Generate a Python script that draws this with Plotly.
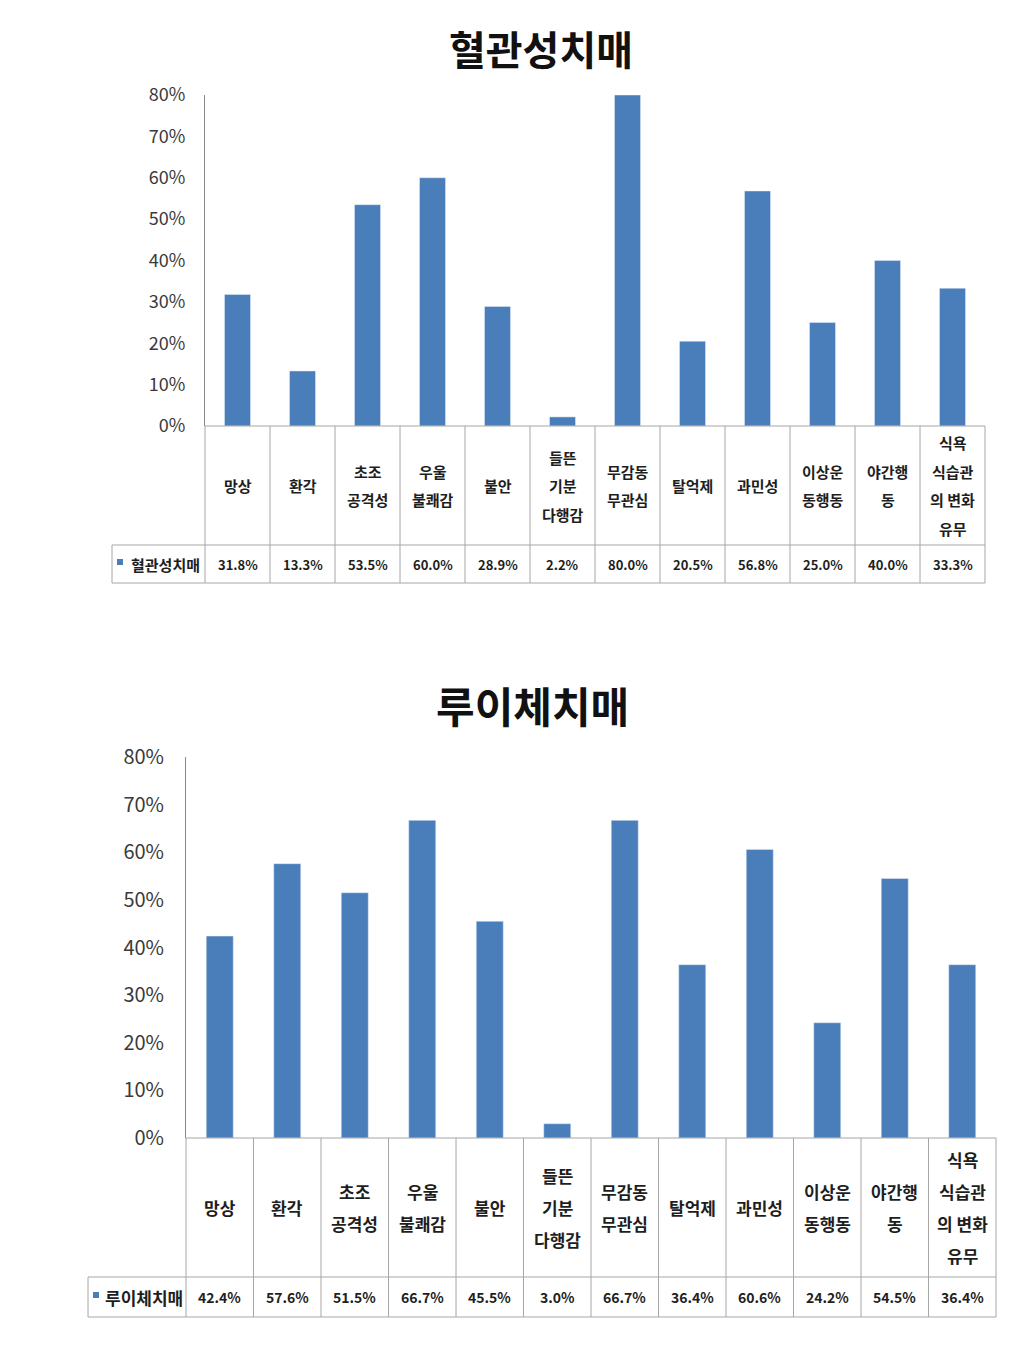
import plotly.graph_objects as go

W, H = 1031, 1353
PAGE_MARGIN = 8  # browser body margin around the plot div
FIG_W, FIG_H = W - 2 * PAGE_MARGIN, H - 2 * PAGE_MARGIN

# category labels, one entry per column, lines split by "\n"
CATEGORIES = [
    "망상", "환각", "초조\n공격성", "우울\n불쾌감", "불안", "들뜬\n기분\n다행감",
    "무감동\n무관심", "탈억제", "과민성", "이상운\n동행동", "야간행\n동", "식욕\n식습관\n의 변화\n유무",
]
VASCULAR = [31.8, 13.3, 53.5, 60.0, 28.9, 2.2, 80.0, 20.5, 56.8, 25.0, 40.0, 33.3]
LEWY = [42.4, 57.6, 51.5, 66.7, 45.5, 3.0, 66.7, 36.4, 60.6, 24.2, 54.5, 36.4]
SERIES_NAMES = ["혈관성치매", "루이체치매"]
Y_TICKS = [0, 10, 20, 30, 40, 50, 60, 70, 80]
Y_TICK_TEXT = [f"{v}%" for v in Y_TICKS]

BAR_COLOR = "#4a7ebb"
GRID_COLOR = "#a6a6a6"
AXIS_COLOR = "#8a8a8a"
TEXT_COLOR = "#1e1e1e"
FONT = "Noto Sans CJK KR"

# pixel layout of each panel (page coordinates)
PANELS = [
    dict(values=VASCULAR, name=SERIES_NAMES[0], ax="", left=205, right=985, top=95, zero=426,
         cat_bottom=545, val_bottom=583, leg_left=112, title_x=541, title_y=48, title_size=40,
         tick_size=18, tick_gap=15, cat_size=15, line_gap=28.5, val_size=13, leg_size=15),
    dict(values=LEWY, name=SERIES_NAMES[1], ax="2", left=186, right=996, top=757, zero=1138,
         cat_bottom=1277, val_bottom=1317, leg_left=88, title_x=532, title_y=705, title_size=42,
         tick_size=20, tick_gap=17, cat_size=17, line_gap=32, val_size=14, leg_size=17),
]

keys = [c.replace("\n", " ") for c in CATEGORIES]


def fx(x):
    return (x - PAGE_MARGIN) / FIG_W


def fy(y):
    return 1 - (y - PAGE_MARGIN) / FIG_H


fig = go.Figure()
shapes = []
annotations = []

for p in PANELS:
    xa, ya = "x" + p["ax"], "y" + p["ax"]
    fig.add_trace(go.Bar(
        x=keys, y=p["values"], marker_color=BAR_COLOR, xaxis=xa, yaxis=ya,
        showlegend=False, width=0.4,
    ))
    fig.update_layout(**{
        "xaxis" + p["ax"]: dict(
            domain=[fx(p["left"]), fx(p["right"])], anchor=ya, range=[-0.5, 11.5],
            showticklabels=False, showline=False, showgrid=False, zeroline=False,
            categoryorder="array", categoryarray=keys, automargin=False,
        ),
        "yaxis" + p["ax"]: dict(
            domain=[fy(p["zero"]), fy(p["top"])], anchor=xa, range=[0, 80],
            tickmode="array", tickvals=Y_TICKS, ticktext=Y_TICK_TEXT,
            showgrid=False, zeroline=False, automargin=False,
            showline=True, linecolor=AXIS_COLOR, linewidth=1, ticks="",
            ticklabelstandoff=p["tick_gap"],
            tickfont=dict(family=FONT, size=p["tick_size"], color="#3a3a3a"),
        ),
    })

    # title
    annotations.append(dict(
        text=p["name"], xref="paper", yref="paper", x=fx(p["title_x"]), y=fy(p["title_y"]),
        showarrow=False, xanchor="center", yanchor="middle",
        font=dict(family=FONT, size=p["title_size"], color="#111111", weight="bold"),
    ))

    # table grid
    line = dict(color=GRID_COLOR, width=1)
    for y0, x0 in [(p["zero"], p["left"]), (p["cat_bottom"], p["leg_left"]), (p["val_bottom"], p["leg_left"])]:
        shapes.append(dict(type="line", xref="paper", yref="paper", x0=fx(x0), x1=fx(p["right"]),
                           y0=fy(y0), y1=fy(y0), line=line))
    colw = (p["right"] - p["left"]) / len(keys)
    for k in range(len(keys) + 1):
        xx = p["left"] + k * colw
        shapes.append(dict(type="line", xref="paper", yref="paper", x0=fx(xx), x1=fx(xx),
                           y0=fy(p["zero"]), y1=fy(p["val_bottom"]), line=line))
    shapes.append(dict(type="line", xref="paper", yref="paper", x0=fx(p["leg_left"]), x1=fx(p["leg_left"]),
                       y0=fy(p["cat_bottom"]), y1=fy(p["val_bottom"]), line=line))

    # category labels
    cat_mid = (p["zero"] + p["cat_bottom"]) / 2
    for key, cat in zip(keys, CATEGORIES):
        lines = cat.split("\n")
        n = len(lines)
        for i, ln in enumerate(lines):
            yy = cat_mid + (i - (n - 1) / 2) * p["line_gap"]
            annotations.append(dict(
                text=ln, xref=xa, yref="paper", x=key, y=fy(yy), showarrow=False,
                xanchor="center", yanchor="middle",
                font=dict(family=FONT, size=p["cat_size"], color=TEXT_COLOR, weight="bold"),
            ))

    # value row
    val_mid = (p["cat_bottom"] + p["val_bottom"]) / 2
    for key, v in zip(keys, p["values"]):
        annotations.append(dict(
            text=f"{v:.1f}%", xref=xa, yref="paper", x=key, y=fy(val_mid), showarrow=False,
            xanchor="center", yanchor="middle",
            font=dict(family=FONT, size=p["val_size"], color=TEXT_COLOR, weight="bold"),
        ))

    # legend cell
    sq = 6
    sx = p["leg_left"] + 5
    shapes.append(dict(type="rect", xref="paper", yref="paper", x0=fx(sx), x1=fx(sx + sq),
                       y0=fy(val_mid - 5), y1=fy(val_mid - 5 + sq), fillcolor=BAR_COLOR,
                       line=dict(width=0)))
    annotations.append(dict(
        text=p["name"], xref="paper", yref="paper", x=fx((sx + sq + p["left"]) / 2 + 1), y=fy(val_mid),
        showarrow=False, xanchor="center", yanchor="middle",
        font=dict(family=FONT, size=p["leg_size"], color=TEXT_COLOR, weight="bold"),
    ))

fig.update_layout(
    width=FIG_W, height=FIG_H, margin=dict(l=0, r=0, t=0, b=0, autoexpand=False),
    paper_bgcolor="white", plot_bgcolor="white",
    shapes=shapes, annotations=annotations,
    font=dict(family=FONT),
)

fig.write_html("out.html")
